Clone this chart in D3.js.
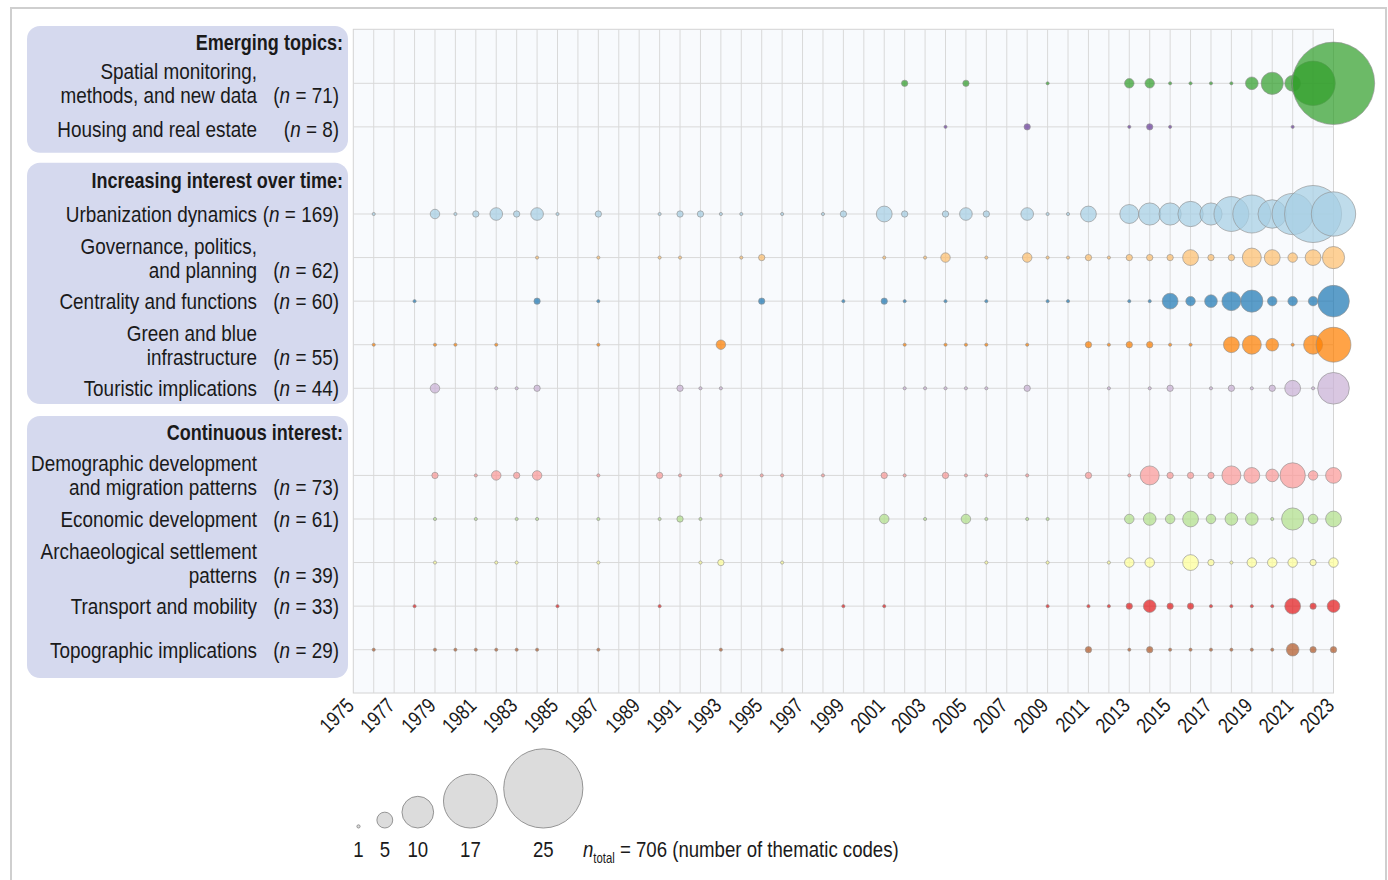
<!DOCTYPE html>
<html>
<head>
<meta charset="utf-8">
<title>Thematic codes over time</title>
<script src="https://d3js.org/d3.v7.min.js"></script>
<style>
body { margin: 0; background: #fff; }
svg text { font-family: 'Liberation Sans', Arial, sans-serif; fill: #1a1a1a; }
</style>
</head>
<body>
<script>
// ---- data ----
var groups = ["Emerging topics:", "Increasing interest over time:", "Continuous interest:"];

var topics = [
  "Spatial monitoring,|methods, and new data",
  "Housing and real estate",
  "Urbanization dynamics",
  "Governance, politics,|and planning",
  "Centrality and functions",
  "Green and blue|infrastructure",
  "Touristic implications",
  "Demographic development|and migration patterns",
  "Economic development",
  "Archaeological settlement|patterns",
  "Transport and mobility",
  "Topographic implications"
];
var topicN = [71, 8, 169, 62, 60, 55, 44, 73, 61, 39, 33, 29];

// [year, number of thematic codes]
var spatial = [[2002,2],[2005,2],[2009,1],[2013,3],[2014,3],[2015,1],[2016,1],[2017,1],[2018,1],[2019,4],[2020,7],[2021,5],[2022,14],[2023,26]];
var housing = [[2004,1],[2008,2],[2013,1],[2014,2],[2015,1],[2021,1]];
var urban = [[1976,1],[1979,3],[1980,1],[1981,2],[1982,4],[1983,2],[1984,4],[1985,1],[1987,2],[1990,1],[1991,2],[1992,2],[1993,1],[1994,1],[1996,1],[1998,1],[1999,2],[2001,5],[2002,2],[2004,2],[2005,4],[2006,2],[2008,4],[2009,1],[2010,1],[2011,5],[2013,6],[2014,7],[2015,7],[2016,8],[2017,7],[2018,11],[2019,12],[2020,9],[2021,13],[2022,18],[2023,14]];
var governance = [[1984,1],[1987,1],[1990,1],[1991,1],[1994,1],[1995,2],[2001,1],[2003,1],[2004,3],[2006,1],[2008,3],[2009,1],[2010,1],[2011,2],[2012,1],[2013,2],[2014,2],[2015,2],[2016,5],[2017,2],[2018,2],[2019,6],[2020,5],[2021,3],[2022,5],[2023,7]];
var centrality = [[1978,1],[1984,2],[1987,1],[1995,2],[1999,1],[2001,2],[2002,1],[2004,1],[2006,1],[2009,1],[2010,1],[2013,1],[2014,1],[2015,5],[2016,3],[2017,4],[2018,6],[2019,7],[2020,3],[2021,3],[2022,3],[2023,10]];
var greenBlue = [[1976,1],[1979,1],[1980,1],[1982,1],[1987,1],[1993,3],[2002,1],[2004,1],[2005,1],[2006,1],[2008,1],[2011,2],[2012,1],[2013,2],[2014,2],[2015,1],[2016,1],[2018,5],[2019,6],[2020,4],[2021,1],[2022,6],[2023,11]];
var touristic = [[1979,3],[1982,1],[1983,1],[1984,2],[1991,2],[1992,1],[1993,1],[2002,1],[2003,1],[2004,1],[2005,1],[2006,1],[2008,2],[2012,1],[2014,1],[2015,2],[2017,1],[2018,2],[2019,1],[2020,2],[2021,5],[2022,1],[2023,10]];
var demographic = [[1979,2],[1981,1],[1982,3],[1983,2],[1984,3],[1987,1],[1990,2],[1991,1],[1993,1],[1995,1],[1996,1],[1998,1],[2001,2],[2002,1],[2004,2],[2005,1],[2006,1],[2008,1],[2011,2],[2013,1],[2014,6],[2015,2],[2016,2],[2017,2],[2018,6],[2019,5],[2020,4],[2021,8],[2022,3],[2023,5]];
var economic = [[1979,1],[1981,1],[1983,1],[1984,1],[1987,1],[1990,1],[1991,2],[1992,1],[2001,3],[2003,1],[2005,3],[2006,1],[2008,1],[2009,1],[2013,3],[2014,4],[2015,3],[2016,5],[2017,3],[2018,4],[2019,4],[2020,1],[2021,7],[2022,3],[2023,5]];
var archaeo = [[1979,1],[1982,1],[1983,1],[1987,1],[1992,1],[1993,2],[1996,1],[2006,1],[2009,1],[2012,1],[2013,3],[2014,3],[2016,5],[2017,2],[2018,1],[2019,3],[2020,3],[2021,3],[2022,2],[2023,3]];
var transport = [[1978,1],[1985,1],[1990,1],[1999,1],[2001,1],[2009,1],[2011,1],[2012,1],[2013,2],[2014,4],[2015,2],[2016,2],[2017,1],[2018,1],[2019,1],[2020,1],[2021,5],[2022,2],[2023,4]];
var topographic = [[1976,1],[1979,1],[1980,1],[1981,1],[1982,1],[1983,1],[1984,1],[1987,1],[1993,1],[1996,1],[2011,2],[2013,1],[2014,2],[2015,1],[2016,1],[2017,1],[2018,1],[2019,1],[2020,1],[2021,4],[2022,2],[2023,2]];

var series = [spatial, housing, urban, governance, centrality, greenBlue, touristic, demographic, economic, archaeo, transport, topographic];

var legendValues = [1, 5, 10, 17, 25];
var nTotal = 706;

// ---- layout ----
var W = 1388, H = 880;
var rowIndex = [0, 1, 3, 4, 5, 6, 7, 9, 10, 11, 12, 13];   // header rows sit in the gaps
var paired = d3.schemePaired;
var topicColor = [paired[3], paired[9], paired[0], paired[6], paired[1], paired[7],
                  paired[8], paired[4], paired[2], paired[10], paired[5], paired[11]];

var svg = d3.select("body").append("svg")
  .attr("width", W).attr("height", H);

// squeezed text -> condensed look
function stext(parent, px, py, size, sx, extra) {
  return parent.append("text")
    .attr("transform", "translate(" + px + "," + py + ")" + (extra || "") + " scale(" + sx + ",1)")
    .style("font-size", size + "px");
}

svg.append("rect").attr("width", W).attr("height", H).attr("fill", "#fff");
// outer frame
svg.append("rect")
  .attr("x", 11).attr("y", 8).attr("width", 1375).attr("height", 890)
  .attr("fill", "none").attr("stroke", "#cfcfcf").attr("stroke-width", 2);

var x = d3.scaleLinear().domain([1975, 2023]).range([353.3, 1333.5]);
var y = d3.scaleLinear().domain([0, 13]).range([83.3, 649.7]);
var r = d3.scaleLinear().domain([0, 25]).range([0, 39.6]);

var plotTop = 29.3, plotBottom = 693;

// label boxes
var boxes = [[26, 152.7], [162.7, 404], [416, 678]];
svg.selectAll("rect.box").data(boxes).enter().append("rect")
  .attr("class", "box")
  .attr("x", 27).attr("y", function(d) { return d[0]; })
  .attr("width", 321).attr("height", function(d) { return d[1] - d[0]; })
  .attr("rx", 13).attr("ry", 13)
  .attr("fill", "#d5d9ee");

// plot background + grid
svg.append("rect")
  .attr("x", x(1975)).attr("y", plotTop)
  .attr("width", x(2023) - x(1975)).attr("height", plotBottom - plotTop)
  .attr("fill", "#f8fafd").attr("stroke", "#d4d4d4").attr("stroke-width", 1);

var years = d3.range(1976, 2023);
svg.append("g").selectAll("line").data(years).enter().append("line")
  .attr("x1", function(d) { return x(d); }).attr("x2", function(d) { return x(d); })
  .attr("y1", plotTop).attr("y2", plotBottom)
  .attr("stroke", "#d9d9d9").attr("stroke-width", 1);

svg.append("g").selectAll("line").data(rowIndex).enter().append("line")
  .attr("x1", x(1975)).attr("x2", x(2023))
  .attr("y1", function(d) { return y(d); }).attr("y2", function(d) { return y(d); })
  .attr("stroke", "#d9d9d9").attr("stroke-width", 1);

// x tick labels
var tickG = svg.append("g");
d3.range(1975, 2024, 2).forEach(function(yr) {
  stext(tickG, x(yr) + 2, 707, 21, 0.82, " rotate(-45)")
    .attr("text-anchor", "end")
    .text(yr);
});

// bubbles
var bubbleG = svg.append("g");
series.forEach(function(s, i) {
  bubbleG.append("g").selectAll("circle").data(s).enter().append("circle")
    .attr("cx", function(d) { return x(d[0]); })
    .attr("cy", y(rowIndex[i]))
    .attr("r", function(d) { return r(d[1]); })
    .attr("fill", topicColor[i])
    .attr("fill-opacity", 0.72)
    .attr("stroke", "#8f8f8f")
    .attr("stroke-opacity", 0.7)
    .attr("stroke-width", 0.9);
});

// group headers
var headerY = [50, 187.5, 440];
var headG = svg.append("g");
groups.forEach(function(g, i) {
  stext(headG, 343, headerY[i], 22, 0.82)
    .attr("text-anchor", "end")
    .style("font-weight", "bold")
    .text(g);
});

// topic labels
var labelG = svg.append("g");
topics.forEach(function(t, i) {
  var lines = t.split("|");
  var cy = y(rowIndex[i]);
  var base = lines.length === 1 ? cy + 8 : cy - 4;
  if (i === 1) base = cy + 10.5;
  lines.forEach(function(line, j) {
    stext(labelG, 257, base + j * 24, 22, 0.86)
      .attr("text-anchor", "end")
      .text(line);
  });
  var nt = stext(labelG, 339, base + (lines.length - 1) * 24, 22, 0.86)
    .attr("text-anchor", "end");
  nt.append("tspan").text("(");
  nt.append("tspan").style("font-style", "italic").text("n");
  nt.append("tspan").text(" = " + topicN[i] + ")");
});

// size legend
var legendCx = [358.5, 384.8, 417.8, 470.4, 543.3];
var legendBottom = 828;
var lg = svg.append("g");
lg.selectAll("circle").data(legendValues).enter().append("circle")
  .attr("cx", function(d, i) { return legendCx[i]; })
  .attr("cy", function(d) { return legendBottom - r(d); })
  .attr("r", function(d) { return r(d); })
  .attr("fill", "#dcdcdc").attr("stroke", "#8a8a8a").attr("stroke-width", 0.9);
legendValues.forEach(function(v, i) {
  stext(lg, legendCx[i], 857, 23, 0.81).attr("text-anchor", "middle").text(v);
});

var nt = stext(lg, 583, 857, 23, 0.81);
nt.append("tspan").style("font-style", "italic").text("n");
nt.append("tspan").attr("dy", 6).style("font-size", "14px").text("total");
nt.append("tspan").attr("dy", -6).text(" = " + nTotal + " (number of thematic codes)");
</script>
</body>
</html>
